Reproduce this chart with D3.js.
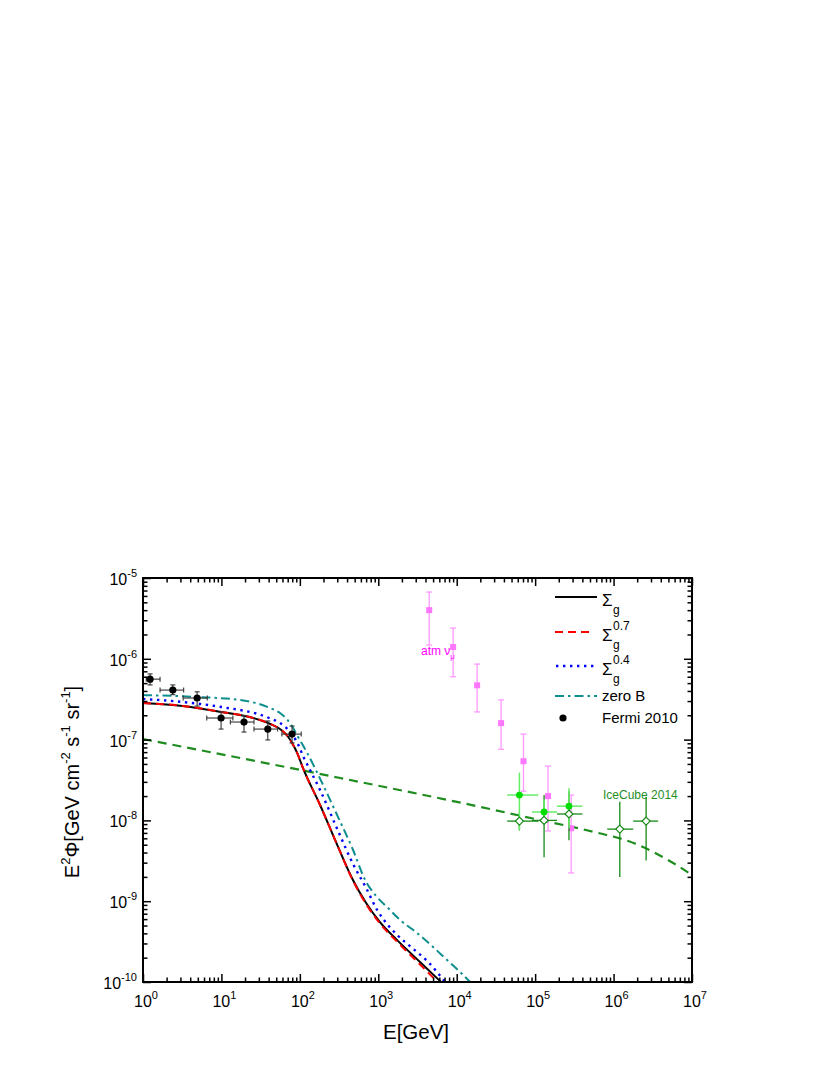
<!DOCTYPE html>
<html><head><meta charset="utf-8">
<script src="https://cdn.jsdelivr.net/npm/d3@7/dist/d3.min.js"></script>
<style>body{margin:0;background:#fff} text{font-family:"Liberation Sans",Arial,Helvetica,sans-serif}</style>
</head><body><svg id="c" width="830" height="1075"></svg>
<script>
// ---------- DATA ----------
const xTickExps = [0,1,2,3,4,5,6,7];
const yTickExps = [-10,-9,-8,-7,-6,-5];

// Sigma_g (black solid)
const sigE = [1,3.2,10,23,42,59,70,80,92,110,181,307,475,700,1050,1740,3400,6300];
const sigV = [2.84e-7,2.61e-7,2.2e-7,1.9e-7,1.56e-7,1.3e-7,1.1e-7,9.0e-8,6.9e-8,4.4e-8,1.55e-8,4.7e-9,1.83e-9,9.5e-10,5.5e-10,3.3e-10,1.77e-10,1.0e-10];
// Sigma_g^0.7 (red dashed)
const sig07E = [1,3.2,10,23,42,59,70,80,92,110,181,307,475,700,1050,1740,3400,5700];
const sig07V = [2.84e-7,2.61e-7,2.2e-7,1.9e-7,1.56e-7,1.3e-7,1.1e-7,9.0e-8,6.9e-8,4.4e-8,1.55e-8,4.7e-9,1.8e-9,9.2e-10,5.3e-10,3.15e-10,1.65e-10,1.0e-10];
// Sigma_g^0.4 (blue dotted)
const sig04E = [1,3.2,10,38,56,68,80,94,112,135,181,307,477,699,966,1295,1738,2700,4318,7110];
const sig04V = [3.18e-7,2.92e-7,2.53e-7,1.9e-7,1.6e-7,1.38e-7,1.15e-7,8.9e-8,6.0e-8,4.2e-8,2.38e-8,7.4e-9,2.88e-9,1.46e-9,7.8e-10,5.22e-10,3.82e-10,2.64e-10,1.77e-10,1.0e-10];
// zero B (teal dash-dot)
const zeroBE = [1,4.89,17.3,41.7,55.9,68,80,94.8,124,198,307,477,679,937,1334,1897,3125,5000,7550,11050,14800];
const zeroBV = [3.56e-7,3.37e-7,3.09e-7,2.46e-7,2.13e-7,1.8e-7,1.45e-7,1.08e-7,6.83e-8,2.74e-8,1.1e-8,4.3e-9,1.83e-9,1.16e-9,8.24e-10,5.85e-10,4.04e-10,2.71e-10,1.87e-10,1.33e-10,1.0e-10];
// IceCube fit (green dashed)
const fitE = [1,23.2,326,19900,1.0e5,6.4e5,1.54e6,3.4e6,5.75e6,1e7];
const fitV = [1.016e-7,5.6e-8,3.35e-8,1.47e-8,1.04e-8,6.98e-9,5.56e-9,3.95e-9,2.97e-9,2.11e-9];

// Fermi 2010
const fermiE  = [1.23,2.4,4.9,9.9,19.4,39,79.5];
const fermiElo= [1.1,1.65,3.25,6.5,13,26,59];
const fermiEhi= [1.65,3.3,6.6,14,26,52,104];
const fermiV  = [5.6e-7,4.1e-7,3.27e-7,1.85e-7,1.65e-7,1.35e-7,1.17e-7];
const fermiVlo= [4.75e-7,3.6e-7,2.6e-7,1.35e-7,1.24e-7,9.9e-8,9.1e-8];
const fermiVhi= [6.5e-7,4.75e-7,3.9e-7,2.2e-7,1.98e-7,1.7e-7,1.47e-7];

// atmospheric nu_mu
const atmE  = [4460,9000,18200,36800,71000,146000,288000];
const atmV  = [4.0e-6,1.4e-6,4.7e-7,1.6e-7,5.4e-8,2.0e-8,8.0e-9];
const atmVlo= [1.48e-6,6.0e-7,2.2e-7,7.6e-8,2.3e-8,7.4e-9,2.24e-9];
const atmVhi= [6.7e-6,2.4e-6,8.6e-7,3.1e-7,1.17e-7,4.7e-8,2.06e-8];

// IceCube 2014 filled
const icfE  = [63000,130000,270000];
const icfElo= [44000,91000,190000];
const icfEhi= [110000,190000,400000];
const icfV  = [2.06e-8,1.27e-8,1.5e-8];
const icfVlo= [7.6e-9,9e-9,8e-9];
const icfVhi= [3.9e-8,1.8e-8,2.5e-8];
// IceCube 2014 open
const icoE  = [63000,130000,270000,1.2e6,2.6e6];
const icoElo= [44000,91000,190000,830000,1.78e6];
const icoEhi= [110000,190000,400000,1.78e6,3.7e6];
const icoV  = [9.8e-9,1.0e-8,1.2e-8,7.8e-9,9.8e-9];
const icoVlo= [7.5e-9,3.5e-9,5.7e-9,2.0e-9,3.2e-9];
const icoVhi= [1.25e-8,2.06e-8,2.3e-8,1.7e-8,1.95e-8];

// legend labels
const legSup = ["", "0.7", "0.4"];

// ---------- CHART ----------
const svg = d3.select("#c");
const L=143,R=692,T=578,B=982;
const x = d3.scaleLog().domain([1,1e7]).range([L,R]);
const y = d3.scaleLog().domain([1e-10,1e-5]).range([B,T]);

svg.append("clipPath").attr("id","clip").append("rect")
  .attr("x",L).attr("y",T).attr("width",R-L).attr("height",B-T);

const zip=(a,b)=>a.map((v,i)=>[v,b[i]]);
const line=d3.line().x(d=>x(d[0])).y(d=>y(d[1])).curve(d3.curveMonotoneX);
const gC = svg.append("g").attr("clip-path","url(#clip)");

gC.append("path").attr("d",line(zip(fitE,fitV))).attr("fill","none")
  .attr("stroke","#1e8c1e").attr("stroke-width",2.2).attr("stroke-dasharray","9,6");
gC.append("path").attr("d",line(zip(sigE,sigV))).attr("fill","none")
  .attr("stroke","#000").attr("stroke-width",2);
gC.append("path").attr("d",line(zip(sig07E,sig07V))).attr("fill","none")
  .attr("stroke","#ff0000").attr("stroke-width",2).attr("stroke-dasharray","8,5");
gC.append("path").attr("d",line(zip(sig04E,sig04V))).attr("fill","none")
  .attr("stroke","#0000ff").attr("stroke-width",2.4).attr("stroke-dasharray","2.4,4.6");
gC.append("path").attr("d",line(zip(zeroBE,zeroBV))).attr("fill","none")
  .attr("stroke","#0e8e8e").attr("stroke-width",2).attr("stroke-dasharray","9,4,2.5,4");

// error bar helper
function errbars(g, E, Elo, Ehi, V, Vlo, Vhi, color, w, cap){
  E.forEach((e,i)=>{
    const cx=x(e), cy=y(V[i]);
    if(Vlo){
      g.append("line").attr("x1",cx).attr("x2",cx).attr("y1",y(Vlo[i])).attr("y2",y(Vhi[i]))
        .attr("stroke",color).attr("stroke-width",w);
      if(cap){
        [Vlo[i],Vhi[i]].forEach(v=>g.append("line").attr("x1",cx-cap).attr("x2",cx+cap)
          .attr("y1",y(v)).attr("y2",y(v)).attr("stroke",color).attr("stroke-width",w));
      }
    }
    if(Elo){
      g.append("line").attr("x1",Math.max(L,x(Elo[i]))).attr("x2",x(Ehi[i])).attr("y1",cy).attr("y2",cy)
        .attr("stroke",color).attr("stroke-width",w);
      if(cap){
        [Elo[i],Ehi[i]].forEach(ev=>g.append("line").attr("x1",x(ev)).attr("x2",x(ev))
          .attr("y1",cy-cap).attr("y2",cy+cap).attr("stroke",color).attr("stroke-width",w));
      }
    }
  });
}
const gP = svg.append("g");
// atm nu
errbars(gP, atmE, null, null, atmV, atmVlo, atmVhi, "#ff99ff", 1.3, 3);
gP.selectAll("rect.atm").data(zip(atmE,atmV)).join("rect").attr("class","atm")
  .attr("x",d=>x(d[0])-3).attr("y",d=>y(d[1])-3).attr("width",6).attr("height",6).attr("fill","#ff77ff");
// Fermi
errbars(gP, fermiE, fermiElo, fermiEhi, fermiV, fermiVlo, fermiVhi, "#333", 1.1, 2.5);
gP.selectAll("circle.fermi").data(zip(fermiE,fermiV)).join("circle").attr("class","fermi")
  .attr("cx",d=>x(d[0])).attr("cy",d=>y(d[1])).attr("r",3.6).attr("fill","#000");
// IceCube
errbars(gP, icoE, icoElo, icoEhi, icoV, icoVlo, icoVhi, "#178a17", 1.3, 0);
errbars(gP, icfE, icfElo, icfEhi, icfV, icfVlo, icfVhi, "#66ee66", 1.5, 0);
gP.selectAll("circle.icf").data(zip(icfE,icfV)).join("circle").attr("class","icf")
  .attr("cx",d=>x(d[0])).attr("cy",d=>y(d[1])).attr("r",3.4).attr("fill","#00dd00");
gP.selectAll("path.ico").data(zip(icoE,icoV)).join("path").attr("class","ico")
  .attr("d",d=>{const cx=x(d[0]),cy=y(d[1]),s=4;return `M${cx},${cy-s}L${cx+s},${cy}L${cx},${cy+s}L${cx-s},${cy}Z`;})
  .attr("fill","#fff").attr("stroke","#178a17").attr("stroke-width",1.2);

// labels in plot
const atmT = svg.append("text").attr("x",421).attr("y",655).attr("fill","#ff00ff").attr("font-size",12);
atmT.append("tspan").text("atm \u03bd");
atmT.append("tspan").attr("font-size",8).attr("dy",4).text("\u03bc");
svg.append("text").attr("x",603).attr("y",799).attr("fill","#1f8f1f").attr("font-size",12).text("IceCube 2014");

// ---------- AXES ----------
const majX = xTickExps.map(p=>10**p);
const minX = []; xTickExps.slice(0,-1).forEach(p=>{for(let k=2;k<=9;k++)minX.push(k*10**p);});
const majY = yTickExps.map(p=>10**p);
const minY = []; yTickExps.slice(0,-1).forEach(p=>{for(let k=2;k<=9;k++)minY.push(k*10**p);});

function styl(g){g.select(".domain").remove(); g.selectAll(".tick line").attr("stroke","#000").attr("stroke-width",1.5);}
const big=8, small=4.5;
svg.append("g").attr("transform",`translate(0,${B})`).call(d3.axisBottom(x).tickValues(majX).tickSize(-big).tickFormat("")).call(styl);
svg.append("g").attr("transform",`translate(0,${B})`).call(d3.axisBottom(x).tickValues(minX).tickSize(-small).tickFormat("")).call(styl);
svg.append("g").attr("transform",`translate(0,${T})`).call(d3.axisTop(x).tickValues(majX).tickSize(-big).tickFormat("")).call(styl);
svg.append("g").attr("transform",`translate(0,${T})`).call(d3.axisTop(x).tickValues(minX).tickSize(-small).tickFormat("")).call(styl);
svg.append("g").attr("transform",`translate(${L},0)`).call(d3.axisLeft(y).tickValues(majY).tickSize(-big).tickFormat("")).call(styl);
svg.append("g").attr("transform",`translate(${L},0)`).call(d3.axisLeft(y).tickValues(minY).tickSize(-small).tickFormat("")).call(styl);
svg.append("g").attr("transform",`translate(${R},0)`).call(d3.axisRight(y).tickValues(majY).tickSize(-big).tickFormat("")).call(styl);
svg.append("g").attr("transform",`translate(${R},0)`).call(d3.axisRight(y).tickValues(minY).tickSize(-small).tickFormat("")).call(styl);

svg.append("rect").attr("x",L).attr("y",T).attr("width",R-L).attr("height",B-T)
  .attr("fill","none").attr("stroke","#000").attr("stroke-width",2);

// tick labels
xTickExps.forEach(p=>{
  const t=svg.append("text").attr("x",x(10**p)+3).attr("y",1007).attr("text-anchor","middle").attr("font-size",16);
  t.append("tspan").text("10");
  t.append("tspan").attr("font-size",11).attr("dy",-8).text(p);
});
yTickExps.forEach(p=>{
  const t=svg.append("text").attr("x",137).attr("y",y(10**p)+7).attr("text-anchor","end").attr("font-size",16);
  t.append("tspan").text("10");
  t.append("tspan").attr("font-size",11).attr("dy",-8).text(p);
});

// axis titles
svg.append("text").attr("x",416).attr("y",1039).attr("text-anchor","middle").attr("font-size",20.5).text("E[GeV]");
const yt = svg.append("text").attr("transform","translate(79,782) rotate(-90)").attr("text-anchor","middle").attr("font-size",20);
yt.append("tspan").text("E");
yt.append("tspan").attr("font-size",13).attr("dy",-9).text("2");
yt.append("tspan").attr("dy",9).text("\u03a6[GeV cm");
yt.append("tspan").attr("font-size",13).attr("dy",-9).text("-2");
yt.append("tspan").attr("dy",9).text(" s");
yt.append("tspan").attr("font-size",13).attr("dy",-9).text("-1");
yt.append("tspan").attr("dy",9).text(" sr");
yt.append("tspan").attr("font-size",13).attr("dy",-9).text("-1");
yt.append("tspan").attr("dy",9).text("]");

// ---------- LEGEND ----------
const leg = svg.append("g");
const legY = [597,632,666,696,718];
leg.append("line").attr("x1",555).attr("x2",597).attr("y1",legY[0]).attr("y2",legY[0]).attr("stroke","#000").attr("stroke-width",2);
leg.append("line").attr("x1",555).attr("x2",592).attr("y1",legY[1]).attr("y2",legY[1]).attr("stroke","#ff0000").attr("stroke-width",2).attr("stroke-dasharray","8,5");
leg.append("line").attr("x1",556).attr("x2",594).attr("y1",legY[2]).attr("y2",legY[2]).attr("stroke","#0000ff").attr("stroke-width",2.4).attr("stroke-dasharray","2.4,4.6");
leg.append("line").attr("x1",555).attr("x2",597).attr("y1",legY[3]).attr("y2",legY[3]).attr("stroke","#0e8e8e").attr("stroke-width",2).attr("stroke-dasharray","9,4,2.5,4");
leg.append("circle").attr("cx",563).attr("cy",legY[4]).attr("r",3.6).attr("fill","#000");
[0,1,2].forEach(i=>{
  leg.append("text").attr("x",602).attr("y",legY[i]+9).attr("font-size",17).text("\u03a3");
  leg.append("text").attr("x",613).attr("y",legY[i]+17).attr("font-size",12).text("g");
  if(legSup[i]) leg.append("text").attr("x",613).attr("y",legY[i]-2).attr("font-size",12).text(legSup[i]);
});
leg.append("text").attr("x",602).attr("y",legY[3]+5).attr("font-size",15).text("zero B");
leg.append("text").attr("x",602).attr("y",legY[4]+5).attr("font-size",15).text("Fermi 2010");
</script></body></html>
